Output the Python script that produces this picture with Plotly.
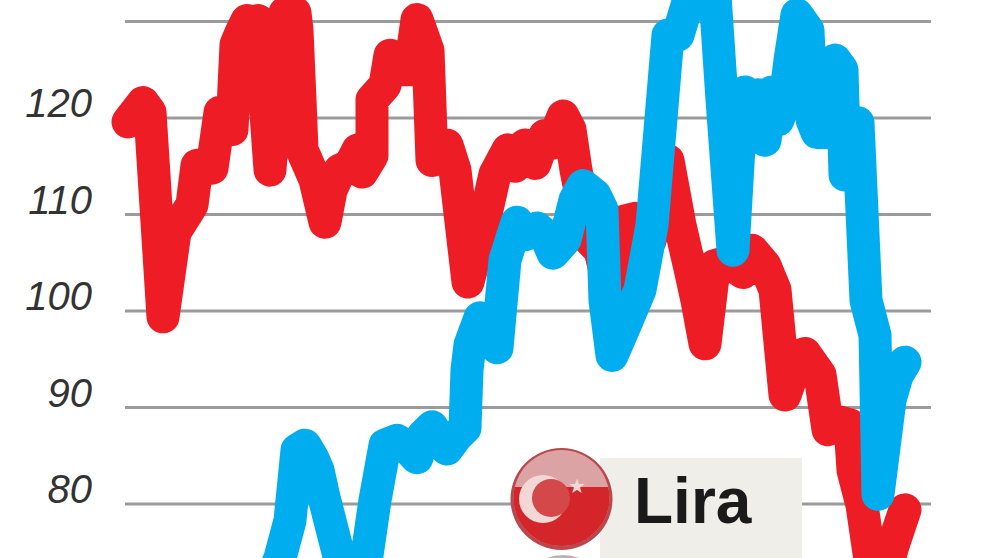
import math
import plotly.graph_objects as go

# tick labels and the two series
tick_vals = [70, 80, 90, 100, 110, 120, 130]
tick_text = ['70', '80', '90', '100', '110', '120', '130']

red_x = [128, 143, 150, 163, 175, 192, 197, 212, 220, 232,
         236, 240, 247, 252, 258, 262, 265, 270, 275, 285,
         295, 297, 300, 302, 315, 325, 331, 340, 350, 358,
         362, 372, 372, 385, 390, 400, 410, 417, 428, 432,
         447, 455, 468, 487, 495, 508, 515, 525, 535, 545,
         552, 563, 570, 576, 580, 585, 600, 612, 620, 635,
         650, 668, 680, 690, 697, 705, 712, 715, 728, 743,
         752, 765, 775, 785, 797, 805, 820, 828, 840, 850,
         853, 862, 870, 878, 893, 905]
red_y = [119.6, 121.6, 120.6, 99.4, 108.2, 111.0, 115.1, 114.8, 120.6, 118.8,
         127.6, 128.6, 130.1, 126.0, 130.1, 129.6, 121.9, 114.6, 121.9, 130.9,
         130.9, 129.1, 121.9, 116.7, 113.6, 109.2, 112.5, 114.6, 115.1, 116.7,
         114.4, 116.1, 121.9, 123.4, 126.5, 125.0, 125.0, 130.2, 127.0, 115.6,
         117.2, 114.6, 103.0, 110.5, 114.2, 116.7, 115.0, 117.2, 115.3, 118.2,
         117.4, 120.2, 118.8, 114.6, 112.5, 107.9, 106.3, 101.1, 109.2, 109.6,
         107.3, 115.6, 108.9, 104.4, 101.1, 96.6, 102.7, 104.7, 105.1, 104.0,
         106.3, 104.7, 102.2, 91.3, 94.9, 95.6, 93.4, 87.7, 88.5, 88.2,
         83.5, 79.9, 74.2, 70.0, 75.7, 79.4]

blue_x = [262, 280, 290, 297, 305, 313, 318, 324, 340, 352,
          362, 375, 385, 397, 405, 417, 423, 432, 440, 447,
          457, 465, 467, 470, 480, 490, 497, 505, 517, 525,
          537, 545, 553, 565, 575, 583, 595, 602, 605, 612,
          625, 640, 652, 668, 678, 690, 715, 722, 733, 740,
          745, 752, 758, 765, 772, 778, 785, 790, 797, 808,
          812, 817, 825, 835, 842, 845, 858, 866, 875, 878,
          890, 897, 905]
blue_y = [70.0, 74.4, 78.3, 85.6, 86.1, 84.7, 83.5, 80.7, 74.2, 70.0,
          71.1, 80.4, 86.1, 86.6, 86.1, 84.8, 87.1, 88.0, 86.6, 85.7,
          87.1, 87.9, 93.9, 96.5, 99.3, 98.0, 96.2, 105.3, 109.2, 107.9,
          108.6, 107.9, 106.0, 107.4, 111.5, 113.0, 112.0, 110.5, 101.1, 95.4,
          98.5, 102.2, 108.9, 128.6, 128.6, 132.7, 132.7, 121.9, 106.3, 118.8,
          122.7, 118.8, 122.4, 117.7, 122.7, 119.8, 121.9, 126.0, 130.7, 129.1,
          119.8, 118.5, 118.5, 126.0, 125.0, 114.1, 119.5, 101.1, 97.5, 81.0,
          90.8, 93.3, 94.7]

RED = '#ee1c25'
BLUE = '#00aeef'
W = 33


def circle(cx, cy, r, color):
    # x in axis units, y measured from the top of the page
    return dict(type='circle', xref='x', yref='paper', x0=cx - r, x1=cx + r,
                y0=1 - (cy + r) / 558, y1=1 - (cy - r) / 558,
                fillcolor=color, line_width=0, layer='above')


def lower_segment(cx, cy, r, cut, color):
    # part of the flag disc below the line y=cut
    a0 = math.asin((cut - cy) / r)
    steps = [a0 + (math.pi - 2 * a0) * i / 40 for i in range(41)]
    pts = ['%.2f %.5f' % (cx + r * math.cos(a), 1 - (cy + r * math.sin(a)) / 558) for a in steps]
    return dict(type='path', xref='x', yref='paper', fillcolor=color, line_width=0, layer='above',
                path='M ' + ' L '.join(pts) + ' Z')


fig = go.Figure()
# simplify off: plotly drops points on thick lines otherwise
fig.add_trace(go.Scatter(x=red_x, y=red_y, mode='lines', line=dict(color=RED, width=W, simplify=False), cliponaxis=False))
fig.add_trace(go.Scatter(x=blue_x, y=blue_y, mode='lines', line=dict(color=BLUE, width=W, simplify=False), cliponaxis=False))

# grid as shapes: it starts at x=125, the plot area starts further left so the line caps are not cut
shapes = [dict(type='line', xref='x', yref='y', x0=125, x1=931, y0=v, y1=v, layer='below',
               line=dict(color='#9b9b9b', width=3)) for v in tick_vals]
shapes += [
    # legend box
    dict(type='rect', xref='x', yref='paper', x0=600, x1=802, y0=0, y1=1 - 458 / 558,
         fillcolor='#efeee9', line_width=0, layer='above'),
    circle(563, 600, 45, '#b5b5b5'),
    # flag
    circle(561.5, 499, 51, '#b9474b'),
    circle(561.5, 498, 48, '#dba3a4'),
    lower_segment(561.5, 498, 48, 487, '#d4252b'),
    circle(543, 499, 24, '#f1d8d5'),
    circle(551, 498, 19, '#d4484a'),
]

fig.update_layout(
    width=992, height=558, showlegend=False,
    margin=dict(l=100, r=61, t=0, b=0),
    paper_bgcolor='white', plot_bgcolor='white',
    xaxis=dict(range=[100, 931], visible=False),
    yaxis=dict(range=[74.41, 132.23], tickvals=tick_vals, ticktext=tick_text,
               showgrid=False, zeroline=False, showline=False,
               ticks='', ticklabelstandoff=7, ticklabelshift=-15,
               tickfont=dict(family='Liberation Sans', size=40, color='#333333', style='italic')),
    shapes=shapes,
    annotations=[
        dict(x=632, y=1 - 501 / 558, xref='x', yref='paper', text='<b>Lira</b>', showarrow=False,
             xanchor='left', yanchor='middle', font=dict(family='Liberation Sans', size=64, color='#1a1a1a')),
        dict(x=577, y=1 - 500 / 558, xref='x', yref='paper', text='★', showarrow=False,
             font=dict(family='DejaVu Sans', size=20, color='#f1d8d5')),
    ],
)

# body margin would push the chart 8px down and right; the thick lines need round joins
post = """document.body.style.margin='0';
document.querySelectorAll('.js-line').forEach(function(p){
    p.style.strokeLinejoin='round'; p.style.strokeLinecap='round';
});"""
fig.write_html("out.html", post_script=post, config={'displayModeBar': False})
